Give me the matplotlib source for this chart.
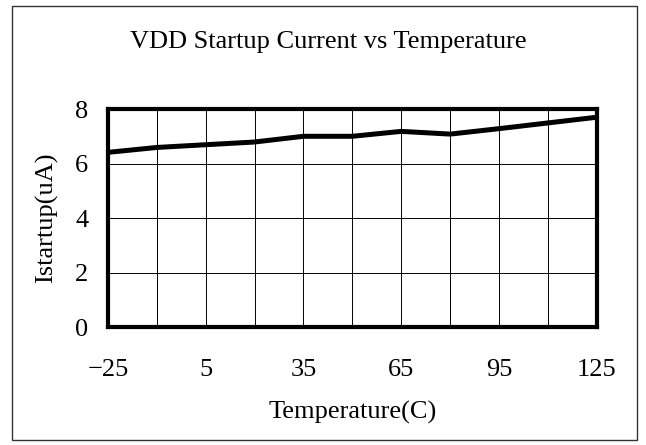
import matplotlib
matplotlib.use('Agg')
import matplotlib.pyplot as plt
from matplotlib.patches import Rectangle

plt.rcParams['font.family'] = 'Liberation Serif'

# Data
temperature = [-25, -10, 5, 20, 35, 50, 65, 80, 95, 110, 125]
istartup = [6.41, 6.59, 6.69, 6.79, 7.0, 7.0, 7.18, 7.08, 7.28, 7.49, 7.7]
x_ticks = [-25, 5, 35, 65, 95, 125]
x_grid = [-10, 20, 50, 80, 110]
y_ticks = [0, 2, 4, 6, 8]

fig = plt.figure(figsize=(6.46, 4.45), dpi=100)
ax = fig.add_axes([0.167, 0.265, 0.757, 0.49])

ax.plot(temperature, istartup, color='black', linewidth=3.6, solid_joinstyle='miter', zorder=3)

ax.set_xlim(-25, 125)
ax.set_ylim(0, 8)
ax.set_xticks(x_ticks)
ax.set_xticks(x_grid, minor=True)
ax.set_yticks(y_ticks)
ax.set_xticklabels(['\u221225', '5', '35', '65', '95', '125'])
ax.grid(True, which='both', color='black', linewidth=0.7)
ax.tick_params(which='both', length=0, labelsize=19)
ax.tick_params(axis='x', pad=23)
ax.tick_params(axis='y', pad=14)
for s in ax.spines.values():
    s.set_linewidth(3.0)

ax.set_xlabel('Temperature(C)', fontsize=19, labelpad=14)
ax.set_ylabel('Istartup(uA)', fontsize=19, labelpad=12)
fig.text(0.508, 0.905, 'VDD Startup Current vs Temperature', ha='center', va='center', fontsize=19)

fig.patches.append(Rectangle((0.019, 0.012), 0.967, 0.975, transform=fig.transFigure,
                             fill=False, edgecolor='#333333', linewidth=1.0))

fig.savefig('out.png', dpi=100, facecolor='white')
